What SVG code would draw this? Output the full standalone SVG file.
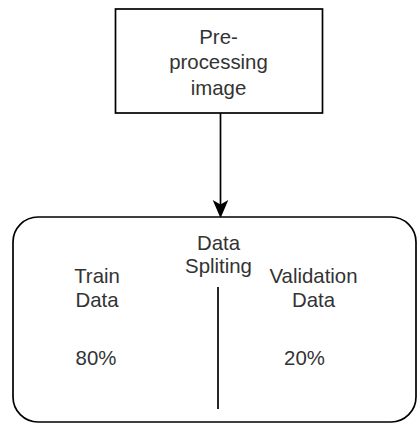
<svg xmlns="http://www.w3.org/2000/svg" width="417" height="424" viewBox="0 0 417 424">
  <style>
    .shape { fill: #ffffff; stroke: #000000; stroke-width: 1.7; }
    .label { font-family: "Liberation Sans", Arial, sans-serif; font-size: 20.4px; fill: #333333; text-anchor: middle; }
    .edge { fill: none; stroke: #000000; stroke-width: 1.7; }
    .head { fill: #000000; stroke: #000000; stroke-width: 1.7; stroke-linejoin: miter; }
  </style>
  <rect width="417" height="424" fill="#ffffff"/>

  <g id="connectors">
    <line class="edge" x1="220.5" y1="113" x2="220.5" y2="205"/>
    <path class="head" d="M220.5,216 L214.5,202 L220.5,205.5 L226.5,202 Z"/>
  </g>

  <g id="preprocessing">
    <rect class="shape" x="115.5" y="9" width="207" height="104"/>
    <text class="label" x="218.5" y="43.5">Pre-</text>
    <text class="label" x="218.5" y="69">processing</text>
    <text class="label" x="218.5" y="94.5">image</text>
  </g>

  <g id="data-splitting">
    <rect class="shape" x="13" y="217" width="403" height="205" rx="25" ry="25"/>
    <text class="label" x="218.5" y="249.5">Data</text>
    <text class="label" x="218.5" y="272.5">Spliting</text>
    <line class="edge" x1="218" y1="287" x2="218" y2="409"/>
    <text class="label" x="97" y="283">Train</text>
    <text class="label" x="97" y="306.5">Data</text>
    <text class="label" x="96" y="365">80%</text>
    <text class="label" x="313.5" y="282.5">Validation</text>
    <text class="label" x="313.5" y="306.5">Data</text>
    <text class="label" x="304.5" y="365">20%</text>
  </g>
</svg>
